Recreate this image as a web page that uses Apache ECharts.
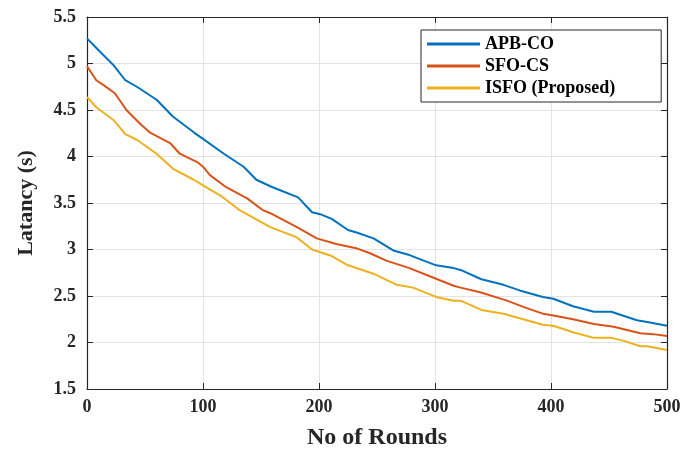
<!DOCTYPE html>
<html>
<head>
<meta charset="utf-8">
<script src="https://cdn.jsdelivr.net/npm/echarts@6/dist/echarts.min.js"></script>
<style>
  html, body { margin: 0; padding: 0; background: #fff; }
  #chart { width: 689px; height: 451px; }
</style>
</head>
<body>
<div id="chart"></div>
<script>
// Latency versus number of rounds for three schemes
const seriesNames = ['APB-CO', 'SFO-CS', 'ISFO (Proposed)'];
const seriesColors = ['#0072BD', '#D95319', '#EDB120'];

const apbRounds = [0, 7, 23, 33, 43, 60, 74, 92, 100, 118, 135, 146, 158, 166, 182, 194, 201, 211, 225, 233, 247, 264, 278, 301, 316, 322, 340, 359, 373, 393, 402, 419, 437, 452, 474, 483, 500];
const apbLatency = [5.27, 5.18, 4.98, 4.82, 4.75, 4.61, 4.43, 4.26, 4.19, 4.03, 3.89, 3.75, 3.68, 3.64, 3.56, 3.40, 3.38, 3.33, 3.21, 3.18, 3.12, 2.99, 2.94, 2.83, 2.80, 2.78, 2.68, 2.62, 2.56, 2.49, 2.47, 2.39, 2.33, 2.33, 2.24, 2.22, 2.18];

const sfoRounds = [0, 8, 14, 24, 34, 46, 54, 72, 80, 95, 100, 106, 120, 138, 152, 158, 181, 198, 215, 233, 244, 258, 278, 296, 316, 322, 339, 362, 379, 393, 402, 419, 437, 454, 477, 488, 500];
const sfoLatency = [4.97, 4.82, 4.77, 4.68, 4.50, 4.35, 4.26, 4.14, 4.03, 3.94, 3.89, 3.80, 3.67, 3.55, 3.42, 3.39, 3.24, 3.12, 3.06, 3.01, 2.96, 2.88, 2.80, 2.71, 2.61, 2.59, 2.54, 2.45, 2.37, 2.31, 2.29, 2.25, 2.20, 2.17, 2.10, 2.09, 2.07];

const isfoRounds = [0, 8, 23, 33, 43, 60, 74, 92, 100, 115, 132, 158, 181, 194, 211, 225, 247, 267, 281, 301, 316, 322, 340, 359, 373, 393, 402, 419, 437, 452, 462, 477, 483, 500];
const isfoLatency = [4.64, 4.53, 4.39, 4.24, 4.18, 4.03, 3.87, 3.75, 3.69, 3.58, 3.42, 3.24, 3.13, 3.00, 2.93, 2.83, 2.74, 2.62, 2.59, 2.49, 2.45, 2.45, 2.35, 2.31, 2.26, 2.19, 2.18, 2.11, 2.05, 2.05, 2.02, 1.96, 1.96, 1.92];

const xTicks = { min: 0, max: 500, interval: 100 };
const yTicks = { min: 1.5, max: 5.5, interval: 0.5 };

const rounds = [apbRounds, sfoRounds, isfoRounds];
const latency = [apbLatency, sfoLatency, isfoLatency];

const FONT = '"Liberation Serif", "Times New Roman", serif';
const AXIS_COLOR = '#262626';

const chart = echarts.init(document.getElementById('chart'), null, { renderer: 'canvas' });

const series = seriesNames.map((name, i) => ({
  name,
  type: 'line',
  xAxisIndex: 0,
  yAxisIndex: 0,
  data: rounds[i].map((r, k) => [r, latency[i][k]]),
  showSymbol: false,
  symbol: 'none',
  lineStyle: { color: seriesColors[i], width: 2 },
  itemStyle: { color: seriesColors[i] },
  animation: false
}));

const tickLabel = { fontFamily: FONT, fontWeight: 'bold', fontSize: 18, color: AXIS_COLOR };
const boxLine = { show: true, onZero: false, lineStyle: { color: AXIS_COLOR, width: 1.2 } };
const innerTick = { show: true, inside: true, length: 6, lineStyle: { color: AXIS_COLOR } };

chart.setOption({
  backgroundColor: '#fff',
  animation: false,
  grid: { left: 87, right: 22, top: 17, bottom: 62, containLabel: false, outerBoundsMode: 'none' },
  legend: {
    orient: 'vertical',
    left: 421,
    top: 30,
    itemWidth: 53,
    itemHeight: 3,
    itemGap: 4,
    padding: [5, 46, 5, 6],
    backgroundColor: '#fff',
    borderColor: '#262626',
    borderWidth: 1,
    icon: 'rect',
    textStyle: { fontFamily: FONT, fontWeight: 'bold', fontSize: 18, color: '#000', padding: [0, 0, 0, 0] },
    data: seriesNames
  },
  xAxis: [
    {
      type: 'value', position: 'bottom', ...xTicks,
      name: 'No of Rounds', nameLocation: 'middle', nameGap: 37,
      nameTextStyle: { fontFamily: FONT, fontWeight: 'bold', fontSize: 24, color: AXIS_COLOR },
      axisLine: boxLine,
      axisTick: innerTick,
      axisLabel: { ...tickLabel, margin: 9 },
      splitLine: { show: true, lineStyle: { color: '#e3e3e3', width: 1 } }
    },
    {
      type: 'value', position: 'top', ...xTicks,
      axisLine: boxLine,
      axisTick: innerTick,
      axisLabel: { show: false },
      splitLine: { show: false }
    }
  ],
  yAxis: [
    {
      type: 'value', position: 'left', ...yTicks,
      name: 'Latancy (s)', nameLocation: 'middle', nameGap: 50, nameRotate: 90,
      nameTextStyle: { fontFamily: FONT, fontWeight: 'bold', fontSize: 22, color: AXIS_COLOR },
      axisLine: boxLine,
      axisTick: innerTick,
      axisLabel: { ...tickLabel, margin: 11 },
      splitLine: { show: true, lineStyle: { color: '#e3e3e3', width: 1 } }
    },
    {
      type: 'value', position: 'right', ...yTicks,
      axisLine: boxLine,
      axisTick: innerTick,
      axisLabel: { show: false },
      splitLine: { show: false }
    }
  ],
  series
});
</script>
</body>
</html>
